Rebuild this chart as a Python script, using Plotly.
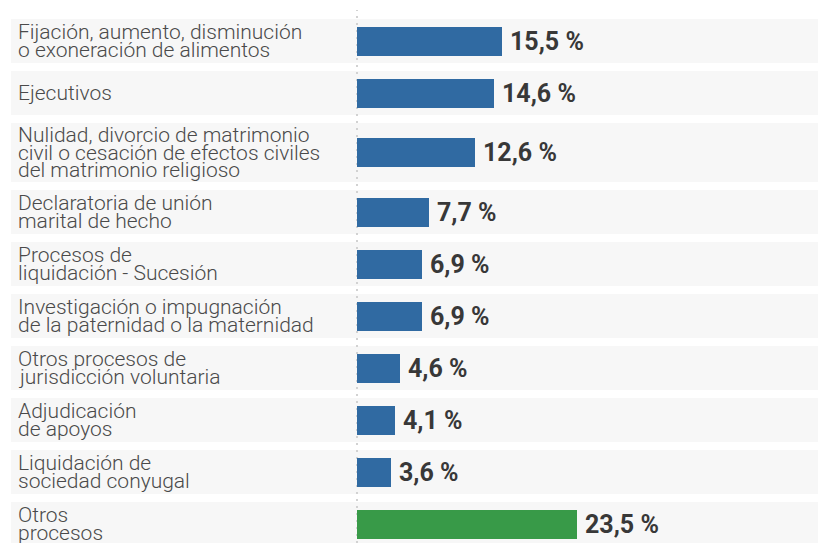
import plotly.graph_objects as go

categories = [
    "Fijación, aumento, disminución<br>o exoneración de alimentos",
    "Ejecutivos",
    "Nulidad, divorcio de matrimonio<br>civil o cesación de efectos civiles<br>del matrimonio religioso",
    "Declaratoria de unión<br>marital de hecho",
    "Procesos de<br>liquidación - Sucesión",
    "Investigación o impugnación<br>de la paternidad o la maternidad",
    "Otros procesos de<br>jurisdicción voluntaria",
    "Adjudicación<br>de apoyos",
    "Liquidación de<br>sociedad conyugal",
    "Otros<br>procesos",
]
values = [15.5, 14.6, 12.6, 7.7, 6.9, 6.9, 4.6, 4.1, 3.6, 23.5]
value_labels = ["15,5 %", "14,6 %", "12,6 %", "7,7 %", "6,9 %", "6,9 %",
                "4,6 %", "4,1 %", "3,6 %", "23,5 %"]
is_other = [False] * 9 + [True]

W, H = 818, 543
BLUE = "#306aa2"
GREEN = "#389a48"
BAND = "#f7f7f7"
LABEL_COLOR = "#4a4a4a"
VALUE_COLOR = "#383838"

# layout in pixel-like units on a reversed y axis
first_top = 19
base_h = 44
extra_per_line = 15
gap = 8
line_pitch = 17.2
zero_px = 357
px_per_unit = 145 / 15.5

lines_per_row = [c.split("<br>") for c in categories]
tops, bottoms, centers = [], [], []
y = first_top
for ls in lines_per_row:
    h = base_h + max(0, len(ls) - 2) * extra_per_line
    tops.append(y)
    bottoms.append(y + h)
    centers.append(y + h / 2)
    y += h + gap

fig = go.Figure()
fig.add_trace(go.Bar(
    x=values, y=centers, orientation="h", width=29,
    marker=dict(color=[GREEN if o else BLUE for o in is_other], line=dict(width=0)),
    hoverinfo="skip", showlegend=False,
))

shapes = []
for t, b in zip(tops, bottoms):
    shapes.append(dict(type="rect", xref="paper", yref="y", x0=11 / W, x1=1,
                       y0=t, y1=b, fillcolor=BAND, line=dict(width=0), layer="below"))
shapes.append(dict(type="line", xref="x", yref="paper", x0=0, x1=0, y0=0, y1=1 - 10 / H,
                   line=dict(color="#d2d2d2", width=2, dash="2px,5px"), layer="below"))

annotations = []
for ls, c in zip(lines_per_row, centers):
    n = len(ls)
    for i, s in enumerate(ls):
        annotations.append(dict(
            x=16 / W, xref="paper", y=c + (i - (n - 1) / 2) * line_pitch, yref="y",
            text=s, showarrow=False, xanchor="left", yanchor="middle",
            font=dict(family="Roboto", size=21, color=LABEL_COLOR, weight=300),
        ))
for v, lab, c in zip(values, value_labels, centers):
    annotations.append(dict(
        x=v, xref="x", y=c, yref="y", text=lab, showarrow=False,
        xanchor="left", yanchor="middle", xshift=6,
        font=dict(family="Roboto", size=25, color=VALUE_COLOR, weight=700),
    ))

fig.update_layout(
    width=W, height=H,
    margin=dict(l=0, r=0, t=0, b=0),
    paper_bgcolor="white", plot_bgcolor="white",
    xaxis=dict(range=[-zero_px / px_per_unit, (W - zero_px) / px_per_unit],
               showgrid=False, zeroline=False, showticklabels=False, fixedrange=True),
    yaxis=dict(range=[H, 0], showgrid=False, zeroline=False, showticklabels=False,
               fixedrange=True),
    shapes=shapes, annotations=annotations, bargap=0,
    showlegend=False,
)

fig.write_html("out.html", config={"displayModeBar": False},
               post_script="document.body.style.margin='0';document.body.style.overflow='hidden';")
